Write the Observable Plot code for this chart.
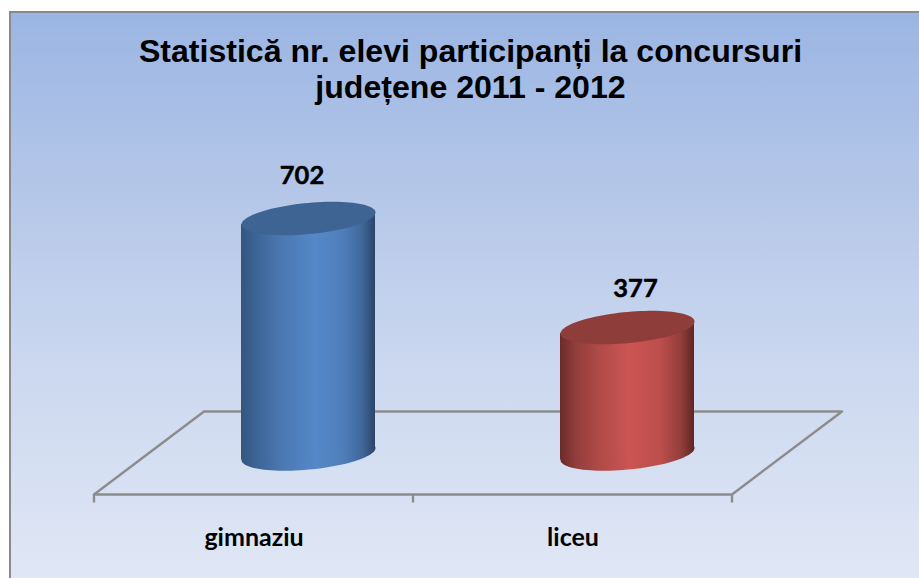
<!DOCTYPE html>
<html lang="ro">
<head>
<meta charset="utf-8">
<script src="https://cdn.jsdelivr.net/npm/d3@7"></script>
<script src="https://cdn.jsdelivr.net/npm/@observablehq/plot@0.6"></script>
<style>
html,body{margin:0;padding:0;background:#fff;width:919px;height:578px;overflow:hidden}
#panel{position:absolute;left:9px;top:11px;width:908px;height:565px;border-left:2px solid #8a8a8a;border-top:2px solid #8a8a8a;
background:linear-gradient(180deg,#9bb5e3 0%,#b3c6e8 30%,#cdd9f0 65%,#e0e7f5 100%)}
#chart{position:absolute;left:0;top:0}
</style>
</head>
<body>
<div id="panel"></div>
<div id="chart"></div>
<script>
const titleText = "Statistică nr. elevi participanți la concursuri\njudețene 2011 - 2012";
const categories = ["gimnaziu", "liceu"];
const values = [702, 377];
const gradients = ["blueBody", "redBody"];
const caps = ["#3d6492", "#8f3d3a"];
const data = categories.map((category, i) => ({category, value: values[i]}));

const tilt = 0.09; // vertical shear of the cylinder ends

// Tilted ellipse glyph (sheared circle) for cylinder ends
const tiltedEllipse = {
  draw(ctx, size) {
    const r = Math.sqrt(size / Math.PI);
    const n = 96;
    for (let i = 0; i <= n; ++i) {
      const t = (i / n) * 2 * Math.PI;
      const px = r * Math.cos(t);
      const py = r * (-tilt * Math.cos(t) + 0.233 * Math.sin(t));
      i ? ctx.lineTo(px, py) : ctx.moveTo(px, py);
    }
    ctx.closePath();
  }
};

const defs = () => d3.create("svg:defs").html(`
  <linearGradient id="blueBody" x1="0" x2="1" y1="0" y2="0">
    <stop offset="0" stop-color="#34557f"/><stop offset="0.12" stop-color="#3d6698"/>
    <stop offset="0.3" stop-color="#4a78b1"/><stop offset="0.55" stop-color="#5588c9"/>
    <stop offset="0.75" stop-color="#4f7fbb"/><stop offset="0.9" stop-color="#40699b"/>
    <stop offset="1" stop-color="#2c4568"/>
  </linearGradient>
  <linearGradient id="redBody" x1="0" x2="1" y1="0" y2="0">
    <stop offset="0" stop-color="#6a2b2a"/><stop offset="0.12" stop-color="#933e3c"/>
    <stop offset="0.3" stop-color="#b04b49"/><stop offset="0.52" stop-color="#cc5553"/>
    <stop offset="0.75" stop-color="#bb4e4b"/><stop offset="0.9" stop-color="#933e3b"/>
    <stop offset="1" stop-color="#5f2523"/>
  </linearGradient>`).node();

// 3D floor derived from the x band scale and the frame
const floor = (index, {x}, values_, {height, marginBottom}) => {
  const step = x.bandwidth();
  const left = x(categories[0]);
  const right = left + step * categories.length;
  const front = height - marginBottom;
  const back = front - 83;
  const depth = 110;
  const g = d3.create("svg:g").attr("fill", "none").attr("stroke", "#8c8c8c").attr("stroke-width", 2.4);
  g.append("path").attr("stroke-linejoin", "round")
    .attr("d", `M${left},${front}L${right},${front}L${right + depth},${back}L${left + depth},${back}Z`);
  for (let i = 0; i <= categories.length; ++i) {
    const tx = left + i * step;
    g.append("path").attr("d", `M${tx},${front}V${front + 8}`);
  }
  return g.node();
};

// Shear the bar so its ends follow the tilted ellipses
const shear = (index, scales, vals, dims, context, next) => {
  const g = next(index, scales, vals, dims, context);
  const deg = Math.atan(-tilt) * 180 / Math.PI;
  d3.select(g).selectAll("rect").each(function () {
    const cx = +this.getAttribute("x") + +this.getAttribute("width") / 2;
    this.setAttribute("transform", `translate(${cx},0) skewY(${deg}) translate(${-cx},0)`);
  });
  return g;
};

const labelOffsets = [{dx: 48, dy: -42.5}, {dx: 62.5, dy: -38.5}];

const cylinder = (i) => {
  const row = [data[i]];
  const fill = `url(#${gradients[i]})`;
  const common = {x: "category", dx: 54.5, r: 67, symbol: tiltedEllipse, stroke: "none"};
  return [
    Plot.dot(row, {...common, y: () => 0, fill}),
    Plot.barY(row, {x: "category", y: "value", fill, insetLeft: 147, insetRight: 38, render: shear}),
    Plot.dot(row, {...common, y: "value", fill: caps[i]}),
    Plot.text(row, {x: "category", y: "value", text: d => String(d.value), ...labelOffsets[i],
      fontFamily: "Lato", fontWeight: 700, fontSize: 25.5, fill: "#000", stroke: "#000", strokeWidth: 0.5})
  ];
};

const chart = Plot.plot({
  width: 919, height: 578,
  marginTop: 0, marginLeft: 94, marginRight: 187, marginBottom: 83.5,
  style: {background: "transparent", overflow: "visible"},
  x: {domain: categories, range: [94, 732], padding: 0, axis: null},
  y: {domain: [0, 702], range: [453.5, 218], axis: null},
  marks: [
    defs,
    floor,
    ...categories.flatMap((_, i) => cylinder(i)),
    Plot.axisX({anchor: "bottom", tickSize: 0, tickPadding: 33, label: null,
      fontFamily: "Lato", fontWeight: 700, fontSize: 25, fill: "#000", stroke: "#000", strokeWidth: 0.3}),
    Plot.text([titleText], {text: d => d, frameAnchor: "top", lineAnchor: "top", dx: 57, dy: 36,
      fontFamily: "Liberation Sans", fontWeight: 700, fontSize: 32.1, lineHeight: 1.125, fill: "#000"})
  ]
});
document.getElementById("chart").append(chart);
</script>
</body>
</html>
